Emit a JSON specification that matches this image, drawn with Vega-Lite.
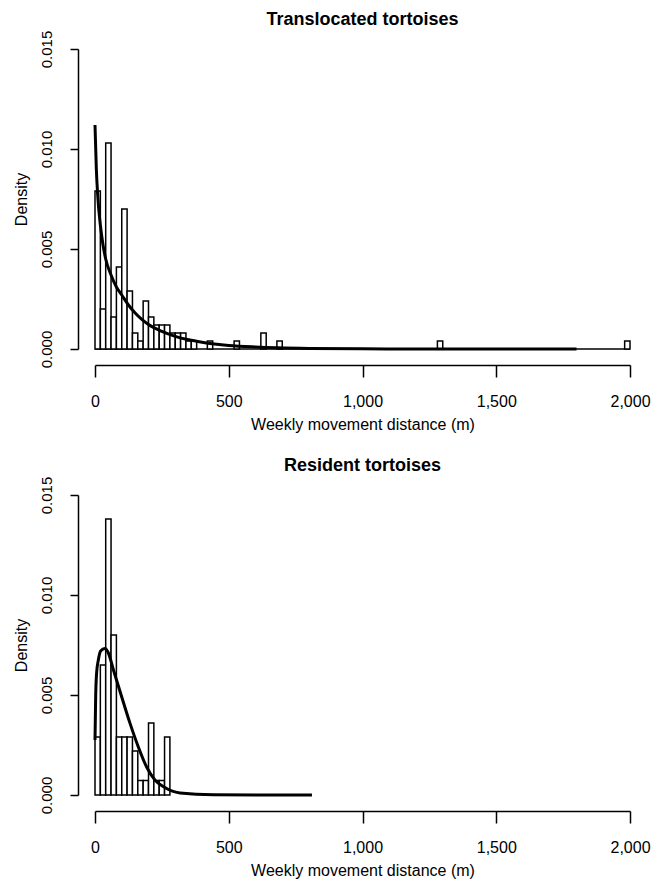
{
  "$schema": "https://vega.github.io/schema/vega-lite/v6.json",
  "background": "white",
  "padding": {"top": 11, "left": 13, "right": 10, "bottom": 2},
  "spacing": 25,
  "config": {
    "font": "Liberation Sans",
    "view": {"stroke": null},
    "title": {"fontSize": 18, "fontWeight": "bold", "color": "black", "offset": 1, "anchor": "middle"},
    "axis": {
      "grid": false,
      "domainColor": "black",
      "domainWidth": 1.5,
      "tickColor": "black",
      "tickWidth": 1.5,
      "labelColor": "black",
      "labelFont": "Liberation Sans",
      "titleColor": "black",
      "titleFontSize": 16,
      "titleFontWeight": "normal",
      "titleFont": "Liberation Sans",
      "labelFlush": false,
      "labelOverlap": false
    },
    "axisX": {"offset": 16, "tickSize": 12, "labelFontSize": 16, "labelPadding": 16, "titlePadding": 7},
    "axisY": {"offset": 17, "tickSize": 8, "labelFontSize": 15, "labelAngle": -90, "labelAlign": "center", "labelBaseline": "bottom", "labelPadding": 16, "titlePadding": 10}
  },
  "datasets": {
    "trans_hist": [
      {"distance": 0, "distance_end": 20, "density": 0.0079},
      {"distance": 20, "distance_end": 40, "density": 0.0020},
      {"distance": 40, "distance_end": 60, "density": 0.0103},
      {"distance": 60, "distance_end": 80, "density": 0.0016},
      {"distance": 80, "distance_end": 100, "density": 0.0041},
      {"distance": 100, "distance_end": 120, "density": 0.0070},
      {"distance": 120, "distance_end": 140, "density": 0.0029},
      {"distance": 140, "distance_end": 160, "density": 0.0008},
      {"distance": 160, "distance_end": 180, "density": 0.0004},
      {"distance": 180, "distance_end": 200, "density": 0.0024},
      {"distance": 200, "distance_end": 220, "density": 0.0016},
      {"distance": 220, "distance_end": 240, "density": 0.0012},
      {"distance": 240, "distance_end": 260, "density": 0.0012},
      {"distance": 260, "distance_end": 280, "density": 0.0012},
      {"distance": 280, "distance_end": 300, "density": 0.0008},
      {"distance": 300, "distance_end": 320, "density": 0.0008},
      {"distance": 320, "distance_end": 340, "density": 0.0008},
      {"distance": 340, "distance_end": 360, "density": 0.0004},
      {"distance": 360, "distance_end": 380, "density": 0.0004},
      {"distance": 420, "distance_end": 440, "density": 0.0004},
      {"distance": 520, "distance_end": 540, "density": 0.0004},
      {"distance": 620, "distance_end": 640, "density": 0.0008},
      {"distance": 680, "distance_end": 700, "density": 0.0004},
      {"distance": 1280, "distance_end": 1300, "density": 0.0004},
      {"distance": 1980, "distance_end": 2000, "density": 0.0004}
    ],
    "trans_base": [{"distance": 0, "distance_end": 2000, "density": 0}],
    "trans_fit": [
      {"distance": 0, "density": 0.0112},
      {"distance": 5, "density": 0.0090},
      {"distance": 10, "density": 0.0077},
      {"distance": 20, "density": 0.0062},
      {"distance": 30, "density": 0.0052},
      {"distance": 40, "density": 0.0045},
      {"distance": 60, "density": 0.0037},
      {"distance": 80, "density": 0.0031},
      {"distance": 100, "density": 0.0027},
      {"distance": 125, "density": 0.0022},
      {"distance": 150, "density": 0.0018},
      {"distance": 175, "density": 0.00148},
      {"distance": 200, "density": 0.00122},
      {"distance": 250, "density": 0.00088},
      {"distance": 300, "density": 0.00063},
      {"distance": 350, "density": 0.00046},
      {"distance": 400, "density": 0.00034},
      {"distance": 500, "density": 0.00018},
      {"distance": 600, "density": 0.0001},
      {"distance": 800, "density": 0.00003},
      {"distance": 1000, "density": 0.00001},
      {"distance": 1200, "density": 0.000003},
      {"distance": 1500, "density": 0.0000005},
      {"distance": 1800, "density": 0}
    ],
    "res_hist": [
      {"distance": 0, "distance_end": 20, "density": 0.0029},
      {"distance": 20, "distance_end": 40, "density": 0.0065},
      {"distance": 40, "distance_end": 60, "density": 0.0138},
      {"distance": 60, "distance_end": 80, "density": 0.0080},
      {"distance": 80, "distance_end": 100, "density": 0.0029},
      {"distance": 100, "distance_end": 120, "density": 0.0029},
      {"distance": 120, "distance_end": 140, "density": 0.0029},
      {"distance": 140, "distance_end": 160, "density": 0.0022},
      {"distance": 160, "distance_end": 180, "density": 0.00072},
      {"distance": 180, "distance_end": 200, "density": 0.00072},
      {"distance": 200, "distance_end": 220, "density": 0.0036},
      {"distance": 220, "distance_end": 240, "density": 0.00072},
      {"distance": 240, "distance_end": 260, "density": 0.00072},
      {"distance": 260, "distance_end": 280, "density": 0.0029}
    ],
    "res_fit": [
      {"distance": 0, "density": 0.00275},
      {"distance": 2.5, "density": 0.0049},
      {"distance": 6, "density": 0.0061},
      {"distance": 12.5, "density": 0.00675},
      {"distance": 21, "density": 0.0072},
      {"distance": 37, "density": 0.00733},
      {"distance": 50, "density": 0.0071},
      {"distance": 69, "density": 0.00625},
      {"distance": 100, "density": 0.0049},
      {"distance": 131, "density": 0.00358},
      {"distance": 162, "density": 0.0024},
      {"distance": 193, "density": 0.0014},
      {"distance": 224, "density": 0.00075},
      {"distance": 255, "density": 0.00042},
      {"distance": 318, "density": 0.0001},
      {"distance": 443, "density": 0.00001},
      {"distance": 600, "density": 0.000001},
      {"distance": 811, "density": 0}
    ]
  },
  "vconcat": [
    {
      "title": "Translocated tortoises",
      "width": 535,
      "height": 300,
      "encoding": {
        "x": {"field": "distance", "type": "quantitative", "scale": {"domain": [0, 2000], "nice": false},
          "axis": {"values": [0, 500, 1000, 1500, 2000], "format": ",.0f", "title": "Weekly movement distance (m)"}},
        "y": {"field": "density", "type": "quantitative", "scale": {"domain": [0, 0.015], "nice": false},
          "axis": {"values": [0, 0.005, 0.01, 0.015], "format": ".3f", "title": "Density"}}
      },
      "layer": [
        {
          "data": {"name": "trans_base"},
          "mark": {"type": "rule", "color": "black", "strokeWidth": 1.5},
          "encoding": {"x2": {"field": "distance_end"}}
        },
        {
          "data": {"name": "trans_hist"},
          "mark": {"type": "rect", "fill": "white", "stroke": "black", "strokeWidth": 1.5},
          "encoding": {"x2": {"field": "distance_end"}, "y2": {"datum": 0}}
        },
        {
          "data": {"name": "trans_fit"},
          "mark": {"type": "line", "color": "black", "strokeWidth": 3, "interpolate": "monotone"},
          "encoding": {}
        }
      ]
    },
    {
      "title": "Resident tortoises",
      "width": 535,
      "height": 300,
      "encoding": {
        "x": {"field": "distance", "type": "quantitative", "scale": {"domain": [0, 2000], "nice": false},
          "axis": {"values": [0, 500, 1000, 1500, 2000], "format": ",.0f", "title": "Weekly movement distance (m)"}},
        "y": {"field": "density", "type": "quantitative", "scale": {"domain": [0, 0.015], "nice": false},
          "axis": {"values": [0, 0.005, 0.01, 0.015], "format": ".3f", "title": "Density"}}
      },
      "layer": [
        {
          "data": {"name": "res_hist"},
          "mark": {"type": "rect", "fill": "white", "stroke": "black", "strokeWidth": 1.5},
          "encoding": {"x2": {"field": "distance_end"}, "y2": {"datum": 0}}
        },
        {
          "data": {"name": "res_fit"},
          "mark": {"type": "line", "color": "black", "strokeWidth": 3, "interpolate": "monotone"},
          "encoding": {}
        }
      ]
    }
  ]
}
